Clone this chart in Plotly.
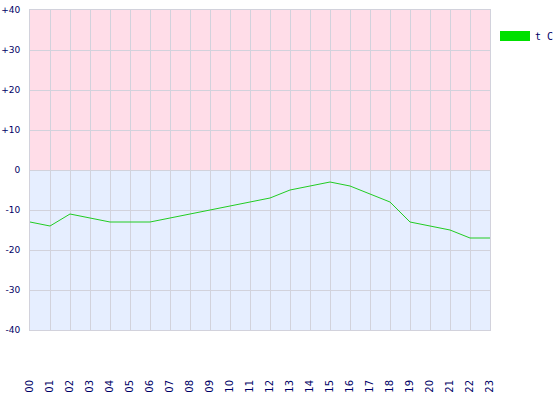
import plotly.graph_objects as go

hours = ["00","01","02","03","04","05","06","07","08","09","10","11",
         "12","13","14","15","16","17","18","19","20","21","22","23"]
temp_c = [-13,-14,-11,-12,-13,-13,-13,-12,-11,-10,-9,-8,
          -7,-5,-4,-3,-4,-6,-8,-13,-14,-15,-17,-17]
y_ticks = [-40,-30,-20,-10,0,10,20,30,40]
y_labels = ["-40","-30","-20","-10","0","+10","+20","+30","+40"]
series_name = "t C"

x_idx = list(range(len(hours)))
font_col = "#000066"
grid_col = "#d2d2dc"

fig = go.Figure()
fig.add_trace(go.Scatter(x=x_idx, y=temp_c, mode="lines",
                         line=dict(color="#22cc22", width=1),
                         showlegend=False, hoverinfo="skip"))

fig.add_shape(type="rect", xref="x", yref="y", x0=0, x1=len(hours)-1, y0=0, y1=40,
              fillcolor="#ffdde8", line_width=0, layer="below")
fig.add_shape(type="rect", xref="x", yref="y", x0=0, x1=len(hours)-1, y0=-40, y1=0,
              fillcolor="#e6eeff", line_width=0, layer="below")

# legend
fig.add_shape(type="rect", xref="paper", yref="paper",
              x0=(500-30)/460, x1=(530-30)/460, y0=(330-41)/320, y1=(330-31)/320,
              fillcolor="#00e000", line_width=0)
fig.add_annotation(xref="paper", yref="paper", x=(533-30)/460, y=(330-36)/320,
                   text=series_name, showarrow=False, xanchor="left", yanchor="middle",
                   font=dict(family="DejaVu Sans Mono", size=10, color=font_col))

fig.update_xaxes(range=[0, len(hours)-1], tickvals=x_idx, ticktext=hours,
                 tickangle=-90, showgrid=True, gridcolor=grid_col, gridwidth=1,
                 zeroline=False, showline=True, linecolor=grid_col, mirror=True,
                 ticks="", ticklabelstandoff=45, automargin=False,
                 tickfont=dict(family="DejaVu Sans", size=10, color=font_col))
fig.update_yaxes(range=[-40, 40], tickvals=y_ticks, ticktext=y_labels,
                 showgrid=True, gridcolor=grid_col, gridwidth=1,
                 zeroline=False, showline=True, linecolor=grid_col, mirror=True,
                 ticks="", ticklabelstandoff=7, automargin=False,
                 tickfont=dict(family="DejaVu Sans", size=9, color=font_col))

fig.update_layout(width=560, height=400, margin=dict(l=30, r=70, t=10, b=70),
                  paper_bgcolor="white", plot_bgcolor="white", showlegend=False)

fig.write_html("out.html", config={"displayModeBar": False},
               post_script="document.body.style.margin='0';")
